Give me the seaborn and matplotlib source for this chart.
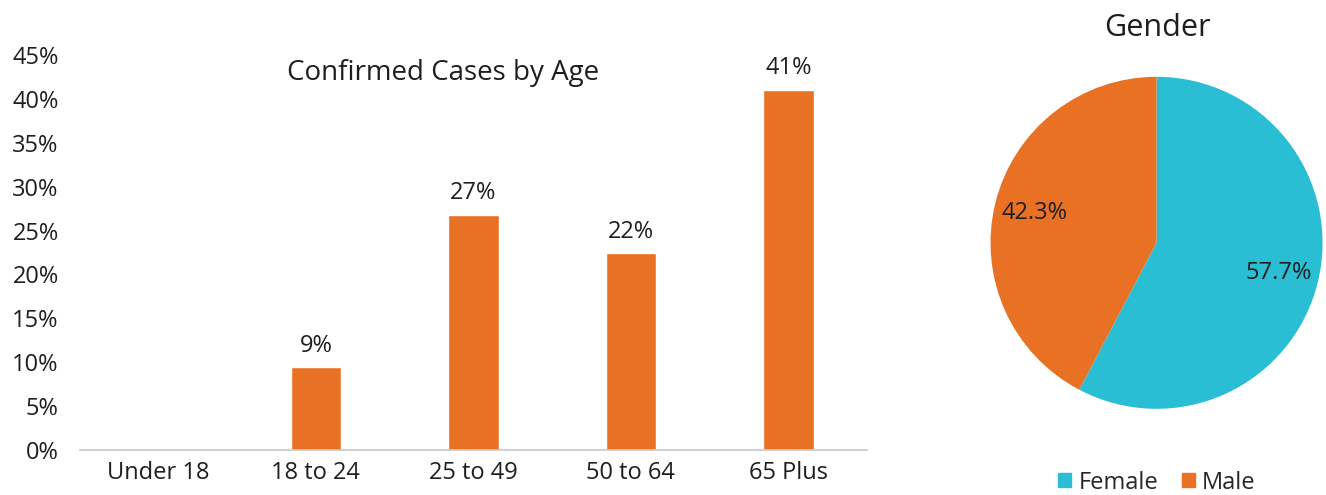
import pandas as pd
import seaborn as sns
import matplotlib.pyplot as plt
from matplotlib.patches import Patch
from matplotlib.ticker import PercentFormatter

sns.set_theme(style="white")
plt.rcParams["font.family"] = ["Open Sans", "DejaVu Sans"]

# data
age_groups = ["Under 18", "18 to 24", "25 to 49", "50 to 64", "65 Plus"]
age_share = [0.0, 0.094, 0.268, 0.224, 0.410]

genders = ["Female", "Male"]
gender_share = [57.7, 42.3]

orange = "#E97124"
cyan = "#29BED4"
txt = "#1E1E1E"
fs = 17

df = pd.DataFrame({"age": age_groups, "share": age_share})

fig = plt.figure(figsize=(13.26, 4.95), dpi=100)

# ---- bar chart ----
ax = fig.add_axes([0.060, 0.091, 0.594, 0.798])
sns.barplot(data=df, x="age", y="share", color=orange, saturation=1,
            width=0.32, ax=ax)
ax.set_ylim(0, 0.45)
ax.set_yticks([i * 0.05 for i in range(10)])
ax.yaxis.set_major_formatter(PercentFormatter(1.0, decimals=0))
ax.set_xlabel("")
ax.set_ylabel("")
ax.tick_params(axis="both", labelsize=fs, colors=txt, length=0)
ax.tick_params(axis="x", pad=8)
ax.tick_params(axis="y", pad=15)
for s in ["top", "right", "left"]:
    ax.spines[s].set_visible(False)
ax.spines["bottom"].set_color("#C8C8C8")
ax.spines["bottom"].set_linewidth(1.2)

labels = [f"{v * 100:.0f}%" if v > 0 else "" for v in age_share]
ax.bar_label(ax.containers[0], labels=labels, padding=7, fontsize=fs,
             color=txt)
ax.text(0.462, 0.955, "Confirmed Cases by Age", transform=ax.transAxes,
        ha="center", va="center", fontsize=20, color=txt)

# ---- pie chart ----
pax = fig.add_axes([0.747, 0.174, 0.2504, 0.671])
wedges, _, autotexts = pax.pie(
    gender_share, colors=[cyan, orange], startangle=90, counterclock=False,
    autopct="%.1f%%", pctdistance=0.76,
    wedgeprops={"linewidth": 0},
    textprops={"fontsize": fs, "color": txt},
)
pax.set_xlim(-1, 1)
pax.set_ylim(-1, 1)
pax.set_aspect("equal")
fig.text(0.8725, 0.943, "Gender", ha="center", va="center", fontsize=22,
         color=txt)

handles = [Patch(color=c) for c in [cyan, orange]]
fig.legend(handles, genders, loc="center", bbox_to_anchor=(0.8725, 0.025),
           ncol=2, frameon=False, fontsize=fs, handlelength=0.55,
           handleheight=0.55, handletextpad=0.3, columnspacing=1.0)

fig.savefig("out.png", dpi=100)
